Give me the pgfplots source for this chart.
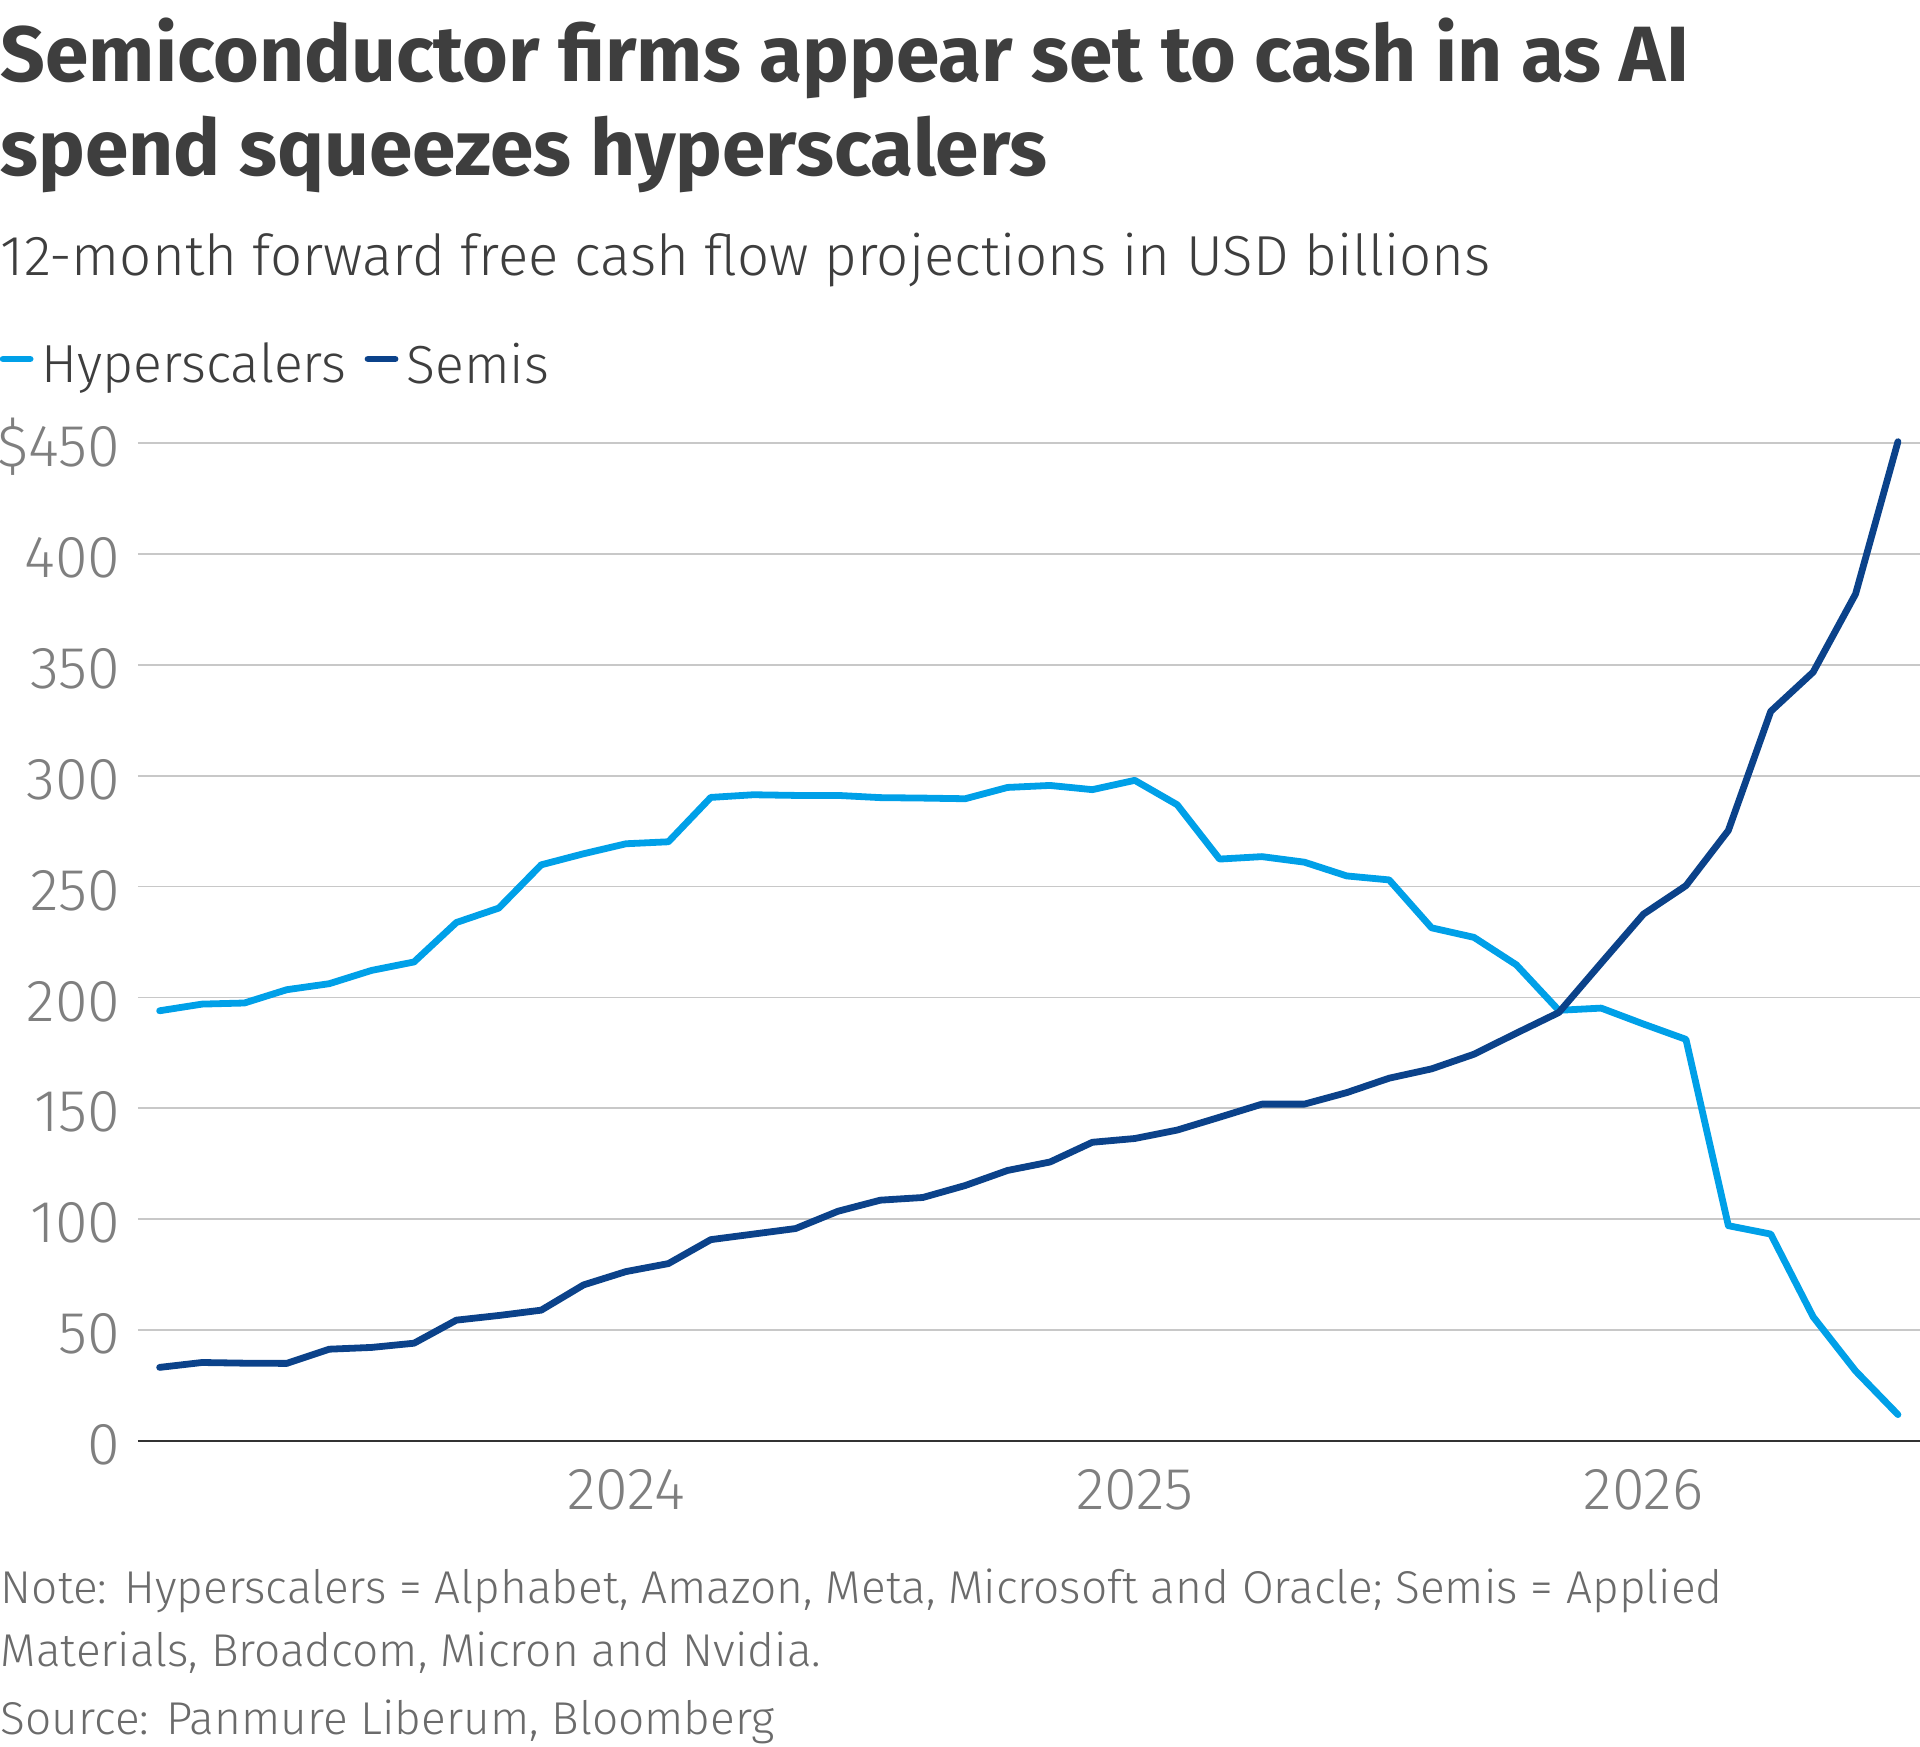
\documentclass[border=0pt]{standalone}
\usepackage{fontspec}
\usepackage{pgfplots}
\pgfplotsset{compat=1.18}
\setmainfont{Fira Sans}
\IfFontExistsTF{Fira Sans Light}{\newfontfamily\lightfont{Fira Sans Light}}{\newfontfamily\lightfont{Fira Sans}}
\definecolor{hyper}{HTML}{00A0E8}
\definecolor{semis}{HTML}{0B428A}
\definecolor{titlec}{HTML}{3E3E3E}
\definecolor{tickc}{HTML}{7F7F7F}
\definecolor{notec}{HTML}{6B6B6B}
\definecolor{gridc}{HTML}{C8C8C8}
\definecolor{axisc}{HTML}{333333}

\pgfplotstableread{
x y
0 194.0
1 197.0
2 197.5
3 203.5
4 206.2
5 212.2
6 216.0
7 233.8
8 240.3
9 259.8
10 264.8
11 269.3
12 270.2
13 290.2
14 291.4
15 291.1
16 291.1
17 290.1
18 289.9
19 289.6
20 294.7
21 295.6
22 293.7
23 297.9
24 286.9
25 262.4
26 263.5
27 261.0
28 254.8
29 253.0
30 231.4
31 227.1
32 214.7
33 194.2
34 195.2
35 188.0
36 181.1
37 97.1
38 93.3
39 56.0
40 31.6
41 11.9
}\hyperdata

\pgfplotstableread{
x y
0 33.2
1 35.4
2 35.1
3 35.0
4 41.4
5 42.2
6 44.1
7 54.5
8 56.6
9 59.0
10 70.4
11 76.4
12 80.0
13 90.8
14 93.3
15 95.8
16 103.6
17 108.6
18 109.8
19 115.2
20 122.0
21 125.8
22 134.7
23 136.4
24 140.2
25 146.0
26 151.9
27 151.9
28 157.1
29 163.6
30 167.8
31 174.4
32 183.9
33 193.2
34 215.5
35 237.6
36 250.4
37 275.3
38 329.0
39 346.7
40 381.9
41 450.6
}\semisdata

\begin{document}
\begin{tikzpicture}
\path[use as bounding box] (0,0) rectangle (480pt,-436.75pt);

\node[anchor=base west, inner sep=0pt, text=titlec, font=\bfseries\fontsize{19.6}{22}\selectfont] at (0,-20.25pt) {Semiconductor firms appear set to cash in as AI};
\node[anchor=base west, inner sep=0pt, text=titlec, font=\bfseries\fontsize{19.6}{22}\selectfont] at (0,-43.75pt) {spend squeezes hyperscalers};
\node[anchor=base west, inner sep=0pt, text=titlec, font=\lightfont\fontsize{14.1}{17}\selectfont] at (0,-68.75pt) {12-month forward free cash flow projections in USD billions};

\node[anchor=base west, inner sep=0pt, text=notec, font=\lightfont\fontsize{11.5}{13}\selectfont] at (0,-400.75pt) {Note: Hyperscalers = Alphabet, Amazon, Meta, Microsoft and Oracle; Semis = Applied};
\node[anchor=base west, inner sep=0pt, text=notec, font=\lightfont\fontsize{11.5}{13}\selectfont] at (0,-416.5pt) {Materials, Broadcom, Micron and Nvidia.};
\node[anchor=base west, inner sep=0pt, text=notec, font=\lightfont\fontsize{11.5}{13}\selectfont] at (0,-433.6pt) {Source: Panmure Liberum, Bloomberg};

\begin{axis}[
  at={(34.5pt,-360.25pt)}, anchor=south west,
  scale only axis, width=445.5pt, height=249.5pt,
  xmin=-0.51, xmax=41.52, ymin=0, ymax=450,
  clip=false,
  axis x line*=bottom, axis y line*=left,
  x axis line style={-, draw=axisc, line width=0.5pt},
  y axis line style={draw=none},
  every outer x axis line/.append style={-},
  major tick length=0pt,
  tick style={draw=none},
  ymajorgrids, grid style={draw=gridc, line width=0.45pt},
  ytick={0,50,100,150,200,250,300,350,400,450},
  yticklabels={0,50,100,150,200,250,300,350,400,\$450},
  yticklabel style={anchor=base east, inner sep=0pt, xshift=-4.25pt, yshift=-5.9pt, text=tickc, font=\lightfont\fontsize{14.8}{17}\selectfont},
  xtick={11,23,35},
  xticklabels={2024,2025,2026},
  xticklabel style={anchor=base, inner sep=0pt, yshift=-17pt, text=tickc, font=\lightfont\fontsize{14.8}{17}\selectfont},
  legend style={at={(axis description cs:-0.0776,1.0772)}, anchor=west, draw=none, fill=none, inner sep=0pt, outer sep=0pt, legend columns=-1, font=\lightfont\fontsize{13.4}{16}\selectfont, text=titlec, nodes={inner sep=0pt}, /tikz/every odd column/.append style={column sep=2.0pt}, /tikz/every even column/.append style={column sep=4.5pt}},
  legend image code/.code={\draw[#1, line width=1.7pt, line cap=round] (0.85pt,1.75pt) -- (7.6pt,1.75pt);},
]
\addplot[hyper, line width=1.7pt, line join=round, line cap=round] table[x=x,y=y] {\hyperdata};
\addlegendentry{Hyperscalers}
\addplot[semis, line width=1.7pt, line join=round, line cap=round] table[x=x,y=y] {\semisdata};
\addlegendentry{Semis}
\end{axis}
\end{tikzpicture}
\end{document}
